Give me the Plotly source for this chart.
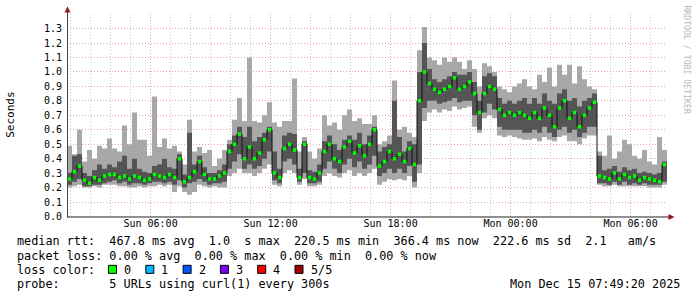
import plotly.graph_objects as go
import pandas as pd

# ---- data (15-minute bins) ----
median = [.26,.31,.35,.25,.23,.27,.25,.28,.29,.29,.27,.28,.26,.28,.27,.25,.26,.29,.28,.27,
          .29,.27,.40,.24,.27,.31,.38,.29,.26,.26,.28,.30,.45,.50,.57,.40,.48,.40,.44,.53,
          .60,.30,.27,.47,.50,.46,.27,.50,.27,.26,.30,.45,.50,.40,.38,.48,.52,.44,.49,.42,
          .50,.60,.35,.38,.45,.40,.43,.38,.47,.36,.80,1.00,.92,.88,.86,.88,.90,.96,.88,.90,
          .93,.85,.72,.85,.90,.88,.74,.70,.72,.70,.72,.70,.68,.72,.68,.75,.70,.62,.75,.80,
          .68,.72,.62,.70,.75,.79,.28,.27,.26,.30,.26,.29,.27,.28,.25,.27,.26,.25,.24,.36]
dark_lo = [.22,.24,.26,.21,.21,.22,.22,.23,.24,.25,.23,.24,.22,.23,.23,.22,.23,.24,.24,.23,
           .24,.22,.25,.20,.23,.24,.26,.24,.22,.23,.23,.24,.33,.38,.43,.33,.36,.33,.35,.40,
           .45,.25,.23,.38,.40,.36,.24,.30,.23,.23,.24,.33,.38,.33,.30,.36,.40,.34,.38,.33,
           .36,.42,.28,.30,.33,.30,.33,.30,.35,.24,.36,.75,.80,.80,.78,.79,.80,.82,.79,.80,
           .80,.70,.60,.72,.78,.74,.62,.60,.60,.60,.60,.58,.58,.60,.58,.62,.58,.55,.60,.62,
           .58,.60,.55,.58,.62,.62,.23,.23,.22,.24,.22,.24,.22,.23,.22,.23,.22,.22,.22,.24]
dark_hi = [.30,.42,.43,.30,.28,.32,.36,.33,.36,.34,.38,.42,.33,.40,.33,.31,.30,.35,.36,.40,
           .34,.33,.43,.29,.58,.36,.42,.34,.30,.30,.32,.36,.50,.56,.62,.55,.62,.52,.55,.58,
           .62,.45,.33,.56,.58,.57,.33,.52,.32,.31,.36,.52,.56,.50,.46,.53,.56,.53,.58,.50,
           .56,.62,.45,.48,.50,.80,.55,.45,.52,.50,1.00,1.20,1.02,.95,.93,.95,.97,1.00,.98,.98,
           1.00,.93,.80,.97,.99,.97,.82,.78,.80,.78,.80,.82,.78,.82,.78,.85,.80,.78,.85,.88,
           .80,.82,.76,.80,.82,.85,.42,.32,.33,.35,.31,.34,.32,.33,.30,.31,.30,.29,.30,.38]
light_lo = [.20,.21,.22,.20,.20,.21,.20,.22,.22,.22,.21,.21,.20,.20,.21,.20,.21,.21,.22,.21,
            .22,.17,.21,.17,.15,.17,.22,.21,.20,.21,.20,.20,.28,.30,.33,.30,.30,.28,.30,.33,
            .36,.22,.21,.30,.32,.30,.22,.26,.21,.21,.22,.28,.30,.28,.27,.30,.32,.28,.30,.28,
            .30,.33,.22,.24,.26,.25,.26,.25,.28,.20,.30,.66,.72,.74,.72,.74,.73,.76,.74,.75,
            .76,.62,.58,.68,.70,.68,.56,.55,.56,.55,.54,.53,.53,.54,.52,.55,.53,.52,.55,.56,
            .52,.52,.50,.54,.56,.56,.22,.21,.21,.22,.21,.21,.21,.21,.21,.21,.20,.20,.20,.22]
light_hi = [.49,.43,.60,.38,.46,.40,.49,.47,.54,.47,.45,.63,.50,.72,.53,.53,.42,.83,.48,.54,
            .47,.49,.45,.36,.67,.45,.48,.44,.46,.35,.40,.46,.53,.67,.82,.66,1.10,.66,.65,.70,
            .79,.65,.62,.66,.66,.955,.45,.55,.45,.40,.47,.70,.63,.65,.60,.70,.74,.66,.68,.64,
            .64,.70,.50,.52,.56,.94,.60,.62,.58,.55,1.15,1.31,1.10,1.08,1.05,1.10,1.07,1.10,1.07,1.02,
            1.08,1.02,.90,1.06,1.04,1.00,.90,.88,.86,.90,.92,.95,.90,.88,.98,.93,1.03,.90,1.05,.98,
            1.05,.92,1.04,.95,.90,.88,.45,.42,.56,.40,.45,.53,.50,.42,.40,.46,.38,.36,.55,.46]

t_start = pd.Timestamp("2025-12-14 01:49:20")
t_end = pd.Timestamp("2025-12-15 07:49:20")
step = pd.Timedelta(minutes=15)
major_ticks = ["2025-12-14 06:00", "2025-12-14 12:00", "2025-12-14 18:00",
               "2025-12-15 00:00", "2025-12-15 06:00"]
major_labels = ["Sun 06:00", "Sun 12:00", "Sun 18:00", "Mon 00:00", "Mon 06:00"]
y_ticks = [i / 10 for i in range(14)]
y_labels = ["%.1f" % v for v in y_ticks]

legend_lines = [
    "median rtt:  467.8 ms avg  1.0  s max  220.5 ms min  366.4 ms now  222.6 ms sd  2.1   am/s",
    "packet loss: 0.00 % avg  0.00 % max  0.00 % min  0.00 % now",
    "loss color:",
    "probe:       5 URLs using curl(1) every 300s",
]
loss_labels = ["0", "1", "2", "3", "4", "5/5"]
loss_colors = ["#00ff00", "#00b8ff", "#0059ff", "#7e00ff", "#ff0000", "#a00000"]
stamp = "Mon Dec 15 07:49:20 2025"

# ---- figure ----
W, H = 697, 297
HV = 290.0   # vertical extent the page is shown at
FONT = "DejaVu Sans Mono"
def px(x): return x / W
def py(y): return 1 - y / HV

n = len(median)
starts = [t_start + step * i for i in range(n)]
centers = [s + step / 2 for s in starts]

fig = go.Figure()
fig.add_trace(go.Bar(x=centers, base=light_lo, y=[h - l for h, l in zip(light_hi, light_lo)],
                     width=step.total_seconds() * 1000, marker=dict(color="#a8a8a8", line=dict(width=0)),
                     hoverinfo="skip"))
fig.add_trace(go.Bar(x=centers, base=dark_lo, y=[h - l for h, l in zip(dark_hi, dark_lo)],
                     width=step.total_seconds() * 1000, marker=dict(color="#555555", line=dict(width=0)),
                     hoverinfo="skip"))
fig.add_trace(go.Scatter(x=starts + [t_end], y=median + [median[-1]], mode="lines",
                         line=dict(color="#111111", width=1, shape="hv"), hoverinfo="skip"))
fig.add_trace(go.Scatter(x=centers, y=median, mode="markers",
                         marker=dict(symbol="square", size=3.5, color="#00ff00", line=dict(width=0)),
                         hoverinfo="skip"))

hours = pd.date_range("2025-12-14 02:00", "2025-12-15 07:00", freq="1h")
minor_vals = [h for h in hours if h.hour % 6 != 0]

fig.update_layout(
    width=W, height=H, margin=dict(l=0, r=0, t=0, b=0), autosize=False,
    paper_bgcolor="white", plot_bgcolor="white", showlegend=False, barmode="overlay",
    font=dict(family=FONT, size=10, color="#000000"),
    xaxis=dict(type="date", range=[t_start, t_end], domain=[px(67), px(667)],
               tickvals=major_ticks, ticktext=major_labels, ticks="",
               showgrid=True, gridcolor="#e8a8a8", gridwidth=1, griddash="1px,2px",
               minor=dict(tickvals=minor_vals, showgrid=True, gridcolor="#c8c8c8",
                          gridwidth=1, griddash="1px,2px", ticks=""),
               zeroline=False, showline=False, tickfont=dict(family=FONT, size=10)),
    yaxis=dict(range=[0, 1.4], domain=[py(215), py(14)], tickvals=y_ticks, ticktext=y_labels,
               ticks="", showgrid=True, gridcolor="#e8a8a8", gridwidth=1, griddash="1px,2px",
               zeroline=False, showline=False, tickfont=dict(family=FONT, size=10),
               ticklabelstandoff=4),
)

shapes = [
    dict(type="line", xref="paper", yref="paper", x0=px(67.5), x1=px(67.5), y0=py(215.5), y1=py(11),
         line=dict(color="#444444", width=1)),
    dict(type="line", xref="paper", yref="paper", x0=px(67), x1=px(670), y0=py(215.5), y1=py(215.5),
         line=dict(color="#222222", width=1)),
    dict(type="path", xref="paper", yref="paper",
         path=f"M {px(67.5)} {py(6.5)} L {px(64.5)} {py(12.5)} L {px(70.5)} {py(12.5)} Z",
         fillcolor="#8b1a1a", line=dict(width=0)),
    dict(type="path", xref="paper", yref="paper",
         path=f"M {px(674.5)} {py(215.5)} L {px(668.5)} {py(212.5)} L {px(668.5)} {py(218.5)} Z",
         fillcolor="#8b1a1a", line=dict(width=0)),
]
for k, c in enumerate(loss_colors):
    x0 = 108.5 + 37.3 * k
    shapes.append(dict(type="rect", xref="paper", yref="paper", x0=px(x0), x1=px(x0 + 8),
                       y0=py(271.5), y1=py(263.5), fillcolor=c, line=dict(color="#000000", width=1)))
fig.update_layout(shapes=shapes)

def nb(s): return s.replace(" ", "\u00a0")
ann = []
line_y = [239.5, 254, 268, 282.5]
for s, yy in zip(legend_lines, line_y):
    ann.append(dict(text=nb(s), xref="paper", yref="paper", x=px(16), y=py(yy), xanchor="left",
                    yanchor="middle", showarrow=False, borderpad=0,
                    font=dict(family=FONT, size=11.8, color="#000000")))
for k, lab in enumerate(loss_labels):
    ann.append(dict(text=lab, xref="paper", yref="paper", x=px(123 + 37.3 * k), y=py(268),
                    xanchor="left", yanchor="middle", showarrow=False, borderpad=0,
                    font=dict(family=FONT, size=11.8, color="#000000")))
ann.append(dict(text=nb(stamp), xref="paper", yref="paper", x=px(681), y=py(282.5), xanchor="right",
                yanchor="middle", showarrow=False, borderpad=0,
                font=dict(family=FONT, size=11.8, color="#000000")))
ann.append(dict(text="Seconds", xref="paper", yref="paper", x=px(11), y=py(114), xanchor="center",
                yanchor="middle", textangle=-90, showarrow=False, borderpad=0,
                font=dict(family=FONT, size=11, color="#000000")))
ann.append(dict(text=nb("RRDTOOL / TOBI OETIKER"), xref="paper", yref="paper", x=px(687), y=py(59),
                xanchor="center", yanchor="middle", textangle=90, showarrow=False, borderpad=0,
                font=dict(family=FONT, size=8.2, color="#b8b8b8")))
fig.update_layout(annotations=ann)

fig.write_html("out.html")
